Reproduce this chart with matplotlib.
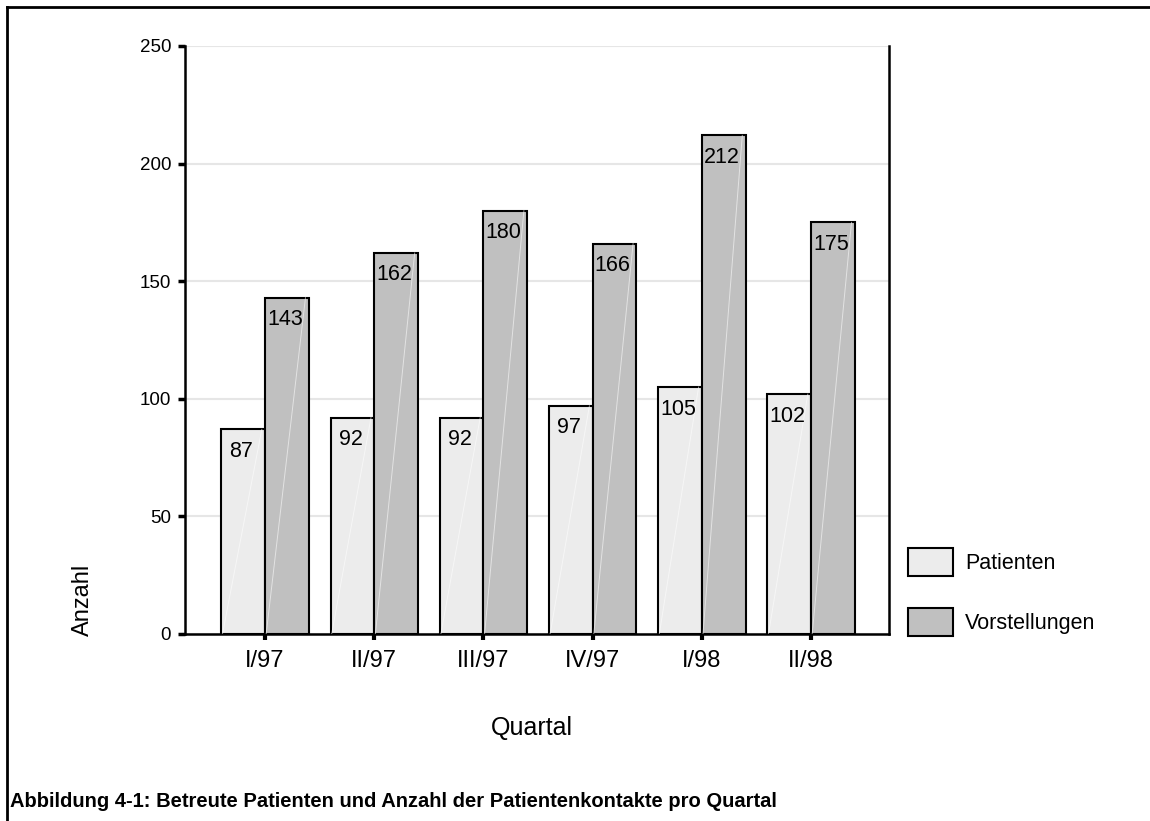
import numpy as np
import matplotlib
matplotlib.use('Agg')
import matplotlib.pyplot as plt
from matplotlib.patches import Patch
from matplotlib.lines import Line2D

plt.rcParams['font.family'] = ['Liberation Sans', 'DejaVu Sans']

quartale = ['I/97', 'II/97', 'III/97', 'IV/97', 'I/98', 'II/98']
patienten = [87, 92, 92, 97, 105, 102]
vorstellungen = [143, 162, 180, 166, 212, 175]

col_pat = '#ececec'
col_vor = '#c0c0c0'

fig = plt.figure(figsize=(11.5, 8.21), dpi=100)
ax = fig.add_axes([0.1609, 0.2278, 0.6122, 0.7162])

x = np.arange(len(quartale))
w = 0.40
ax.bar(x - w/2, patienten, w, color=col_pat, edgecolor='black', linewidth=1.5, zorder=3)
ax.bar(x + w/2, vorstellungen, w, color=col_vor, edgecolor='black', linewidth=1.5, zorder=3)

# faint diagonal sheen line inside every bar
for xs, vals in [(x - w/2, patienten), (x + w/2, vorstellungen)]:
    for xi, v in zip(xs, vals):
        ax.plot([xi - w/2 + 0.01, xi + w/2 - 0.03], [0, v], color='white',
                linewidth=0.7, alpha=0.55, zorder=3.5)

# value labels just below the top of each bar
for xs, vals in [(x - w/2, patienten), (x + w/2, vorstellungen)]:
    for xi, v in zip(xs, vals):
        ax.annotate(str(v), (xi, v), xytext=(-2, -22), textcoords='offset pixels',
                    ha='center', va='center', fontsize=15.5, zorder=4)

ax.set_xlim(-0.733, 5.714)
ax.set_ylim(0, 250)
ax.set_yticks([0, 50, 100, 150, 200, 250])
ax.set_xticks(x)
ax.set_xticklabels(quartale, fontsize=17)
ax.tick_params(axis='y', labelsize=13.5, length=5, width=2.5, pad=5)
ax.tick_params(axis='x', length=4, width=3, pad=7.5)
ax.yaxis.grid(True, color='#e6e6e6', linewidth=1.5, zorder=0)
ax.set_axisbelow(True)

ax.spines['top'].set_visible(False)
for s in ['left', 'right', 'bottom']:
    ax.spines[s].set_linewidth(1.8)

ax.set_xlabel('Quartal', fontsize=18)
ax.xaxis.set_label_coords(0.492, -0.139)
ax.set_ylabel('Anzahl', fontsize=17)
ax.yaxis.set_label_coords(-0.13, 0.058)

handles = [Patch(facecolor=col_pat, edgecolor='black', linewidth=1.5, label='Patienten'),
           Patch(facecolor=col_vor, edgecolor='black', linewidth=1.5, label='Vorstellungen')]
fig.legend(handles=handles, loc='upper left', bbox_to_anchor=(908/1150, 1 - 548/821),
           frameon=False, fontsize=15.5, handlelength=2.1, handleheight=1.6,
           handletextpad=0.55, labelspacing=1.5, borderpad=0, borderaxespad=0)

# frame around the figure
fig.add_artist(Line2D([7/1150, 1], [1 - 7/821, 1 - 7/821], color='black', linewidth=2, transform=fig.transFigure))
fig.add_artist(Line2D([7/1150, 7/1150], [0, 1 - 7/821], color='black', linewidth=2, transform=fig.transFigure))

fig.text(10/1150, 1 - 801/821, 'Abbildung 4-1: Betreute Patienten und Anzahl der Patientenkontakte pro Quartal',
         fontsize=14.5, fontweight='bold', va='center', ha='left')

fig.savefig('out.png', dpi=100)
